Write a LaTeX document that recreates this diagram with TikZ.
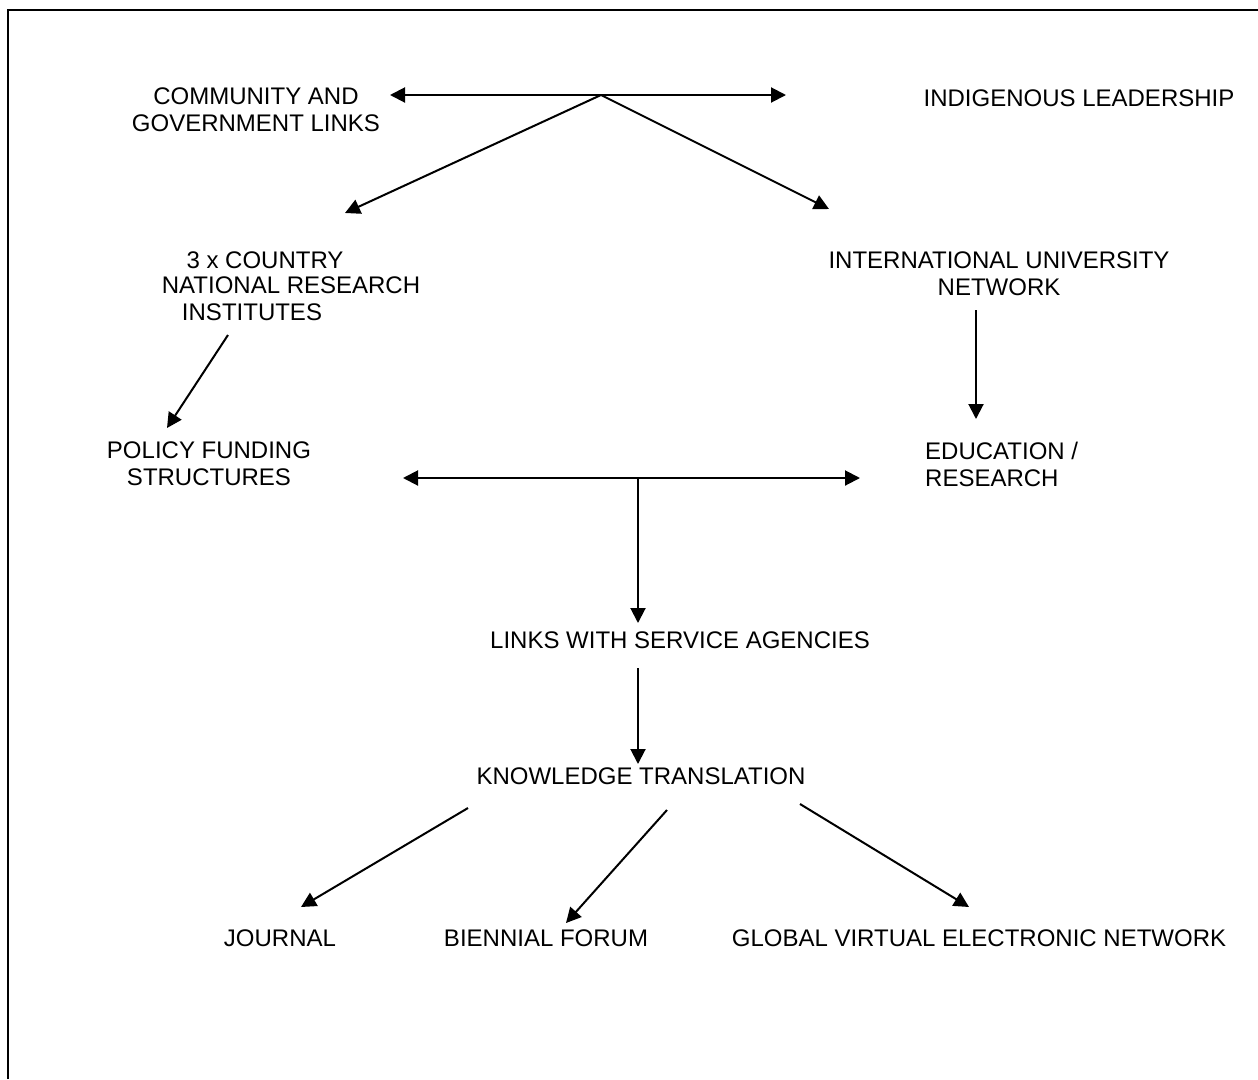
\documentclass[tikz,border=0pt]{standalone}
\usepackage{fontspec}
\setmainfont{Liberation Sans}
\usetikzlibrary{arrows.meta}
\begin{document}
\begin{tikzpicture}[x=1pt,y=-1pt,
  lbl/.style={inner sep=0pt,font=\fontsize{24}{27}\selectfont},
  conn/.style={line width=2pt,-{Triangle[length=15pt,width=15pt]}},
  dconn/.style={line width=2pt,{Triangle[length=15pt,width=15pt]}-{Triangle[length=15pt,width=15pt]}},
  frame/.style={line width=2.5pt}]
\useasboundingbox (0,0) rectangle (1258,1079);
% frame (cut by the page)
\coordinate (fb) at (8,1079);
\coordinate (fc) at (8,10);
\coordinate (fr) at (1258,10);
\draw[frame] (fb) -- (fc) -- (fr);
% labels
\node[lbl,align=center] (cg) at (256,110) {COMMUNITY AND\\GOVERNMENT LINKS};
\node[lbl] (il) at (1079,98) {INDIGENOUS LEADERSHIP};
\node[lbl] (nr1) at (265,260) {3 x COUNTRY};
\node[lbl] (nr2) at (291,285) {NATIONAL RESEARCH};
\node[lbl] (nr3) at (252,312) {INSTITUTES};
\node[lbl,align=center] (iun) at (999,274) {INTERNATIONAL UNIVERSITY\\NETWORK};
\node[lbl,align=center] (pf) at (209,464) {POLICY FUNDING\\STRUCTURES};
\node[lbl,align=left,anchor=west] (er) at (925,464) {EDUCATION /\\RESEARCH};
\node[lbl] (ls) at (680,640) {LINKS WITH SERVICE AGENCIES};
\node[lbl] (kt) at (641,776) {KNOWLEDGE TRANSLATION};
\node[lbl] (jo) at (280,938) {JOURNAL};
\node[lbl] (bf) at (546,938) {BIENNIAL FORUM};
\node[lbl] (gv) at (979,938) {GLOBAL VIRTUAL ELECTRONIC NETWORK};
% junction and end coordinates
\coordinate (j1) at (601,95);
\coordinate (t1l) at (390,95);
\coordinate (t1r) at (786,95);
\coordinate (j2) at (638,478);
\coordinate (t2l) at (403,478);
\coordinate (t2r) at (860,478);
\coordinate (a1s) at (228,335); \coordinate (a1e) at (167,428);
\coordinate (a2s) at (976,310); \coordinate (a2e) at (976,419);
\coordinate (a3e) at (638,623);
\coordinate (a4s) at (638,668); \coordinate (a4e) at (638,764);
\coordinate (a5s) at (468,808); \coordinate (a5e) at (301,907);
\coordinate (a6s) at (667,810); \coordinate (a6e) at (566,923);
\coordinate (a7s) at (800,804); \coordinate (a7e) at (969,907);
\coordinate (d1e) at (345,213);
\coordinate (d2e) at (829,209);
% connectors
\draw[dconn] (t1l) -- (t1r);
\draw[conn] (j1) -- (d1e);
\draw[conn] (j1) -- (d2e);
\draw[conn] (a1s) -- (a1e);
\draw[conn] (a2s) -- (a2e);
\draw[dconn] (t2l) -- (t2r);
\draw[conn] (j2) -- (a3e);
\draw[conn] (a4s) -- (a4e);
\draw[conn] (a5s) -- (a5e);
\draw[conn] (a6s) -- (a6e);
\draw[conn] (a7s) -- (a7e);
\end{tikzpicture}
\end{document}
